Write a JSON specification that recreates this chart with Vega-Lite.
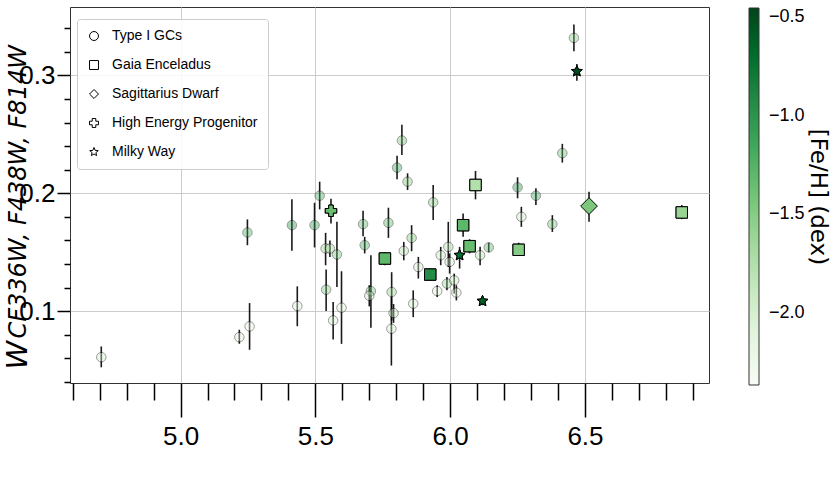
{
  "$schema": "https://vega.github.io/schema/vega-lite/v6.json",
  "autosize": {"type": "none"},
  "width": 639,
  "height": 376,
  "padding": {"left": 70, "top": 7, "right": 122, "bottom": 115},
  "background": "white",
  "config": {
    "view": {"stroke": "#333", "strokeWidth": 1},
    "axis": {"labelFont": "Liberation Sans Narrow, Liberation Sans, sans-serif", "labelColor": "black", "tickColor": "black", "domain": false}
  },
  "data": {"values": [
    {"group": "Type I GCs", "logM": 4.706, "W": 0.0609, "lo": 0.0523, "hi": 0.070, "feh": -2.0},
    {"group": "Type I GCs", "logM": 5.218, "W": 0.0779, "lo": 0.0723, "hi": 0.0842, "feh": -2.1},
    {"group": "Type I GCs", "logM": 5.248, "W": 0.1667, "lo": 0.1559, "hi": 0.1778, "feh": -1.2},
    {"group": "Type I GCs", "logM": 5.256, "W": 0.087, "lo": 0.0672, "hi": 0.1068, "feh": -2.2},
    {"group": "Type I GCs", "logM": 5.413, "W": 0.1729, "lo": 0.1511, "hi": 0.1948, "feh": -1.0},
    {"group": "Type I GCs", "logM": 5.433, "W": 0.1043, "lo": 0.0872, "hi": 0.121, "feh": -2.1},
    {"group": "Type I GCs", "logM": 5.497, "W": 0.1729, "lo": 0.154, "hi": 0.1919, "feh": -1.1},
    {"group": "Type I GCs", "logM": 5.516, "W": 0.1979, "lo": 0.1863, "hi": 0.2098, "feh": -1.2},
    {"group": "Type I GCs", "logM": 5.538, "W": 0.1531, "lo": 0.1389, "hi": 0.1664, "feh": -1.6},
    {"group": "Type I GCs", "logM": 5.554, "W": 0.1531, "lo": 0.146, "hi": 0.160, "feh": -1.7},
    {"group": "Type I GCs", "logM": 5.54, "W": 0.1182, "lo": 0.100, "hi": 0.1352, "feh": -1.5},
    {"group": "Type I GCs", "logM": 5.566, "W": 0.0921, "lo": 0.0759, "hi": 0.1077, "feh": -2.0},
    {"group": "Type I GCs", "logM": 5.58, "W": 0.148, "lo": 0.1204, "hi": 0.1757, "feh": -1.4},
    {"group": "Type I GCs", "logM": 5.597, "W": 0.1029, "lo": 0.0722, "hi": 0.1338, "feh": -2.1},
    {"group": "Type I GCs", "logM": 5.677, "W": 0.1738, "lo": 0.1636, "hi": 0.1851, "feh": -1.3},
    {"group": "Type I GCs", "logM": 5.683, "W": 0.1559, "lo": 0.1489, "hi": 0.163, "feh": -1.2},
    {"group": "Type I GCs", "logM": 5.706, "W": 0.117, "lo": 0.0859, "hi": 0.1474, "feh": -1.4},
    {"group": "Type I GCs", "logM": 5.70, "W": 0.113, "lo": 0.104, "hi": 0.122, "feh": -1.9},
    {"group": "Type I GCs", "logM": 5.771, "W": 0.1749, "lo": 0.1621, "hi": 0.1877, "feh": -1.3},
    {"group": "Type I GCs", "logM": 5.783, "W": 0.1162, "lo": 0.092, "hi": 0.133, "feh": -1.6},
    {"group": "Type I GCs", "logM": 5.79, "W": 0.0983, "lo": 0.090, "hi": 0.106, "feh": -1.9},
    {"group": "Type I GCs", "logM": 5.782, "W": 0.085, "lo": 0.0538, "hi": 0.112, "feh": -2.0},
    {"group": "Type I GCs", "logM": 5.803, "W": 0.2217, "lo": 0.2118, "hi": 0.2317, "feh": -1.1},
    {"group": "Type I GCs", "logM": 5.821, "W": 0.2447, "lo": 0.2325, "hi": 0.258, "feh": -1.4},
    {"group": "Type I GCs", "logM": 5.842, "W": 0.2098, "lo": 0.2027, "hi": 0.2169, "feh": -1.5},
    {"group": "Type I GCs", "logM": 5.828, "W": 0.1511, "lo": 0.1431, "hi": 0.1587, "feh": -1.8},
    {"group": "Type I GCs", "logM": 5.857, "W": 0.1621, "lo": 0.1508, "hi": 0.1729, "feh": -1.5},
    {"group": "Type I GCs", "logM": 5.863, "W": 0.1063, "lo": 0.0949, "hi": 0.1176, "feh": -2.0},
    {"group": "Type I GCs", "logM": 5.882, "W": 0.1374, "lo": 0.1276, "hi": 0.146, "feh": -2.0},
    {"group": "Type I GCs", "logM": 5.937, "W": 0.1923, "lo": 0.1772, "hi": 0.207, "feh": -1.5},
    {"group": "Type I GCs", "logM": 5.952, "W": 0.117, "lo": 0.1119, "hi": 0.1219, "feh": -2.1},
    {"group": "Type I GCs", "logM": 5.965, "W": 0.1474, "lo": 0.1389, "hi": 0.1545, "feh": -1.9},
    {"group": "Type I GCs", "logM": 5.988, "W": 0.1233, "lo": 0.1176, "hi": 0.1289, "feh": -1.6},
    {"group": "Type I GCs", "logM": 5.993, "W": 0.1545, "lo": 0.1374, "hi": 0.1757, "feh": -1.8},
    {"group": "Type I GCs", "logM": 5.998, "W": 0.1417, "lo": 0.1318, "hi": 0.1489, "feh": -2.0},
    {"group": "Type I GCs", "logM": 6.015, "W": 0.1261, "lo": 0.1148, "hi": 0.1318, "feh": -1.9},
    {"group": "Type I GCs", "logM": 6.023, "W": 0.1157, "lo": 0.1091, "hi": 0.1219, "feh": -2.1},
    {"group": "Type I GCs", "logM": 6.111, "W": 0.1474, "lo": 0.1389, "hi": 0.1545, "feh": -1.8},
    {"group": "Type I GCs", "logM": 6.143, "W": 0.154, "lo": 0.150, "hi": 0.158, "feh": -1.3},
    {"group": "Type I GCs", "logM": 6.25, "W": 0.205, "lo": 0.1957, "hi": 0.2135, "feh": -1.0},
    {"group": "Type I GCs", "logM": 6.264, "W": 0.18, "lo": 0.1715, "hi": 0.1885, "feh": -2.0},
    {"group": "Type I GCs", "logM": 6.318, "W": 0.1979, "lo": 0.19, "hi": 0.2042, "feh": -1.1},
    {"group": "Type I GCs", "logM": 6.379, "W": 0.1738, "lo": 0.1672, "hi": 0.1814, "feh": -1.4},
    {"group": "Type I GCs", "logM": 6.416, "W": 0.234, "lo": 0.226, "hi": 0.2419, "feh": -1.4},
    {"group": "Type I GCs", "logM": 6.459, "W": 0.3318, "lo": 0.3204, "hi": 0.3432, "feh": -1.5},
    {"group": "Gaia Enceladus", "logM": 5.758, "W": 0.1446, "lo": 0.139, "hi": 0.150, "feh": -1.3},
    {"group": "Gaia Enceladus", "logM": 6.094, "W": 0.207, "lo": 0.1948, "hi": 0.2189, "feh": -1.75},
    {"group": "Gaia Enceladus", "logM": 6.048, "W": 0.1729, "lo": 0.163, "hi": 0.1829, "feh": -1.3},
    {"group": "Gaia Enceladus", "logM": 6.072, "W": 0.1551, "lo": 0.149, "hi": 0.161, "feh": -1.35},
    {"group": "Gaia Enceladus", "logM": 5.926, "W": 0.131, "lo": 0.126, "hi": 0.136, "feh": -0.95},
    {"group": "Gaia Enceladus", "logM": 6.254, "W": 0.152, "lo": 0.147, "hi": 0.158, "feh": -1.5},
    {"group": "Gaia Enceladus", "logM": 6.859, "W": 0.1837, "lo": 0.178, "hi": 0.19, "feh": -1.6},
    {"group": "Sagittarius Dwarf", "logM": 6.515, "W": 0.1891, "lo": 0.1757, "hi": 0.2013, "feh": -1.45},
    {"group": "High Energy Progenitor", "logM": 5.558, "W": 0.1851, "lo": 0.1744, "hi": 0.1953, "feh": -1.35},
    {"group": "Milky Way", "logM": 6.47, "W": 0.3034, "lo": 0.2955, "hi": 0.3097, "feh": -0.5},
    {"group": "Milky Way", "logM": 6.035, "W": 0.1474, "lo": 0.1361, "hi": 0.1545, "feh": -0.7},
    {"group": "Milky Way", "logM": 6.12, "W": 0.1085, "lo": 0.105, "hi": 0.112, "feh": -0.6}
  ]},
  "layer": [
    {
      "mark": {"type": "rule", "color": "black", "strokeWidth": 1.6, "opacity": 0.9},
      "encoding": {
        "x": {"field": "logM", "type": "quantitative",
              "scale": {"domain": [4.59, 6.96], "nice": false, "zero": false},
              "axis": {"orient": "bottom", "title": null, "values": [5.0, 5.5, 6.0, 6.5], "format": ".1f",
                       "tickSize": 34, "tickWidth": 1.5, "labelFontSize": 26, "labelPadding": 6,
                       "grid": true, "gridColor": "#cccccc", "gridWidth": 1}},
        "y": {"field": "lo", "type": "quantitative",
              "scale": {"domain": [0.039, 0.358], "nice": false, "zero": false},
              "axis": {"orient": "left", "values": [0.1, 0.2, 0.3], "format": ".1f",
                       "tickSize": 13, "tickWidth": 1.5, "labelFontSize": 26, "labelPadding": 2,
                       "grid": true, "gridColor": "#cccccc", "gridWidth": 1,
                       "title": "CF336W, F438W, F814W", "titleFont": "DejaVu Sans", "titleFontStyle": "italic",
                       "titleFontWeight": "normal", "titleFontSize": 24, "titleColor": "black",
                       "titleAngle": -90, "titleAlign": "left", "titleBaseline": "alphabetic",
                       "titleX": -45, "titleY": 331}},
        "y2": {"field": "hi"}
      }
    },
    {
      "transform": [{"filter": "datum.group !== 'Type I GCs' && datum.group !== 'Sagittarius Dwarf'"}],
      "mark": {"type": "point", "filled": false, "color": "black", "strokeWidth": 1, "opacity": 1, "size": 130},
      "encoding": {
        "x": {"field": "logM", "type": "quantitative",
              "scale": {"domain": [4.59, 6.96], "nice": false, "zero": false},
              "axis": {"orient": "bottom", "title": null, "labels": false, "grid": false,
                       "values": [4.6, 4.7, 4.8, 4.9, 5.1, 5.2, 5.3, 5.4, 5.6, 5.7, 5.8, 5.9, 6.1, 6.2, 6.3, 6.4, 6.6, 6.7, 6.8, 6.9],
                       "tickSize": 17, "tickWidth": 1.5}},
        "y": {"field": "W", "type": "quantitative",
              "scale": {"domain": [0.039, 0.358], "nice": false, "zero": false},
              "axis": {"orient": "left", "labels": false, "grid": false,
                       "values": [0.04, 0.06, 0.08, 0.12, 0.14, 0.16, 0.18, 0.22, 0.24, 0.26, 0.28, 0.32, 0.34],
                       "tickSize": 6, "tickWidth": 1.5,
                       "title": "W", "titleFont": "DejaVu Sans", "titleFontStyle": "italic",
                       "titleFontWeight": "normal", "titleFontSize": 29, "titleColor": "black",
                       "titleAngle": -90, "titleAlign": "left", "titleBaseline": "alphabetic",
                       "titleX": -44, "titleY": 362}},
        "shape": {"field": "group", "type": "nominal",
                  "scale": {"domain": ["Type I GCs", "Gaia Enceladus", "Sagittarius Dwarf", "High Energy Progenitor", "Milky Way"],
                            "range": ["circle", "square", "diamond", "cross", "M0,-1L0.264,-0.364L0.951,-0.309L0.428,0.139L0.588,0.809L0,0.45L-0.588,0.809L-0.428,0.139L-0.951,-0.309L-0.264,-0.364Z"]},
                  "legend": {"title": null, "orient": "none", "legendX": 7, "legendY": 12,
                             "padding": 10, "symbolSize": 80, "symbolStrokeWidth": 1,
                             "symbolStrokeColor": "black", "symbolFillColor": "transparent",
                             "labelOffset": 11, "rowPadding": 15,
                             "labelFont": "Liberation Sans Narrow, Liberation Sans, sans-serif",
                             "labelFontSize": 14, "labelColor": "black", "labelLimit": 300,
                             "fillColor": "rgba(255,255,255,0.85)", "strokeColor": "#cccccc", "cornerRadius": 3}}
      }
    },
    {
      "transform": [{"filter": "datum.group !== 'Type I GCs' && datum.group !== 'Sagittarius Dwarf'"}],
      "mark": {"type": "point", "filled": true, "stroke": "black", "strokeWidth": 1, "opacity": 1, "size": 130},
      "encoding": {
        "x": {"field": "logM", "type": "quantitative", "scale": {"domain": [4.59, 6.96], "nice": false, "zero": false}, "axis": null},
        "y": {"field": "W", "type": "quantitative", "scale": {"domain": [0.039, 0.358], "nice": false, "zero": false}, "axis": null},
        "shape": {"field": "group", "type": "nominal"},
        "color": {"field": "feh", "type": "quantitative",
                  "scale": {"domain": [-2.367, -2.128, -1.889, -1.650, -1.411, -1.171, -0.932, -0.693, -0.454],
                            "range": ["#f7fcf5", "#e5f5e0", "#c7e9c0", "#a1d99b", "#74c476", "#41ab5d", "#238b45", "#006d2c", "#00441b"]},
                  "legend": {"title": "[Fe/H] (dex)", "orient": "none", "legendX": 679, "legendY": 1,
                             "padding": 0, "direction": "vertical", "gradientLength": 377, "gradientThickness": 10,
                             "gradientStrokeColor": "#333", "gradientStrokeWidth": 1,
                             "values": [-2.0, -1.5, -1.0, -0.5], "format": ".1f",
                             "labelFont": "Liberation Sans Narrow, Liberation Sans, sans-serif",
                             "labelFontSize": 18, "labelColor": "black", "labelOffset": 10, "labelOverlap": false,
                             "titleOrient": "right", "titleAngle": 90, "titleAnchor": "middle",
                             "titleFont": "DejaVu Sans", "titleFontSize": 23, "titleFontWeight": "normal",
                             "titleColor": "black", "titlePadding": 1}}
      }
    },
    {
      "transform": [{"filter": "datum.group === 'Sagittarius Dwarf'"}],
      "mark": {"type": "point", "filled": true, "stroke": "black", "strokeWidth": 1, "opacity": 1, "size": 280},
      "encoding": {
        "x": {"field": "logM", "type": "quantitative", "scale": {"domain": [4.59, 6.96], "nice": false, "zero": false}, "axis": null},
        "y": {"field": "W", "type": "quantitative", "scale": {"domain": [0.039, 0.358], "nice": false, "zero": false}, "axis": null},
        "shape": {"field": "group", "type": "nominal"},
        "color": {"field": "feh", "type": "quantitative"}
      }
    },
    {
      "transform": [{"filter": "datum.group === 'Type I GCs'"}],
      "mark": {"type": "point", "filled": true, "stroke": "black", "strokeWidth": 1, "opacity": 0.4, "size": 90},
      "encoding": {
        "x": {"field": "logM", "type": "quantitative", "scale": {"domain": [4.59, 6.96], "nice": false, "zero": false}, "axis": null},
        "y": {"field": "W", "type": "quantitative", "scale": {"domain": [0.039, 0.358], "nice": false, "zero": false}, "axis": null},
        "shape": {"field": "group", "type": "nominal"},
        "color": {"field": "feh", "type": "quantitative"}
      }
    }
  ],
  "resolve": {"axis": {"x": "independent", "y": "independent"}}
}
